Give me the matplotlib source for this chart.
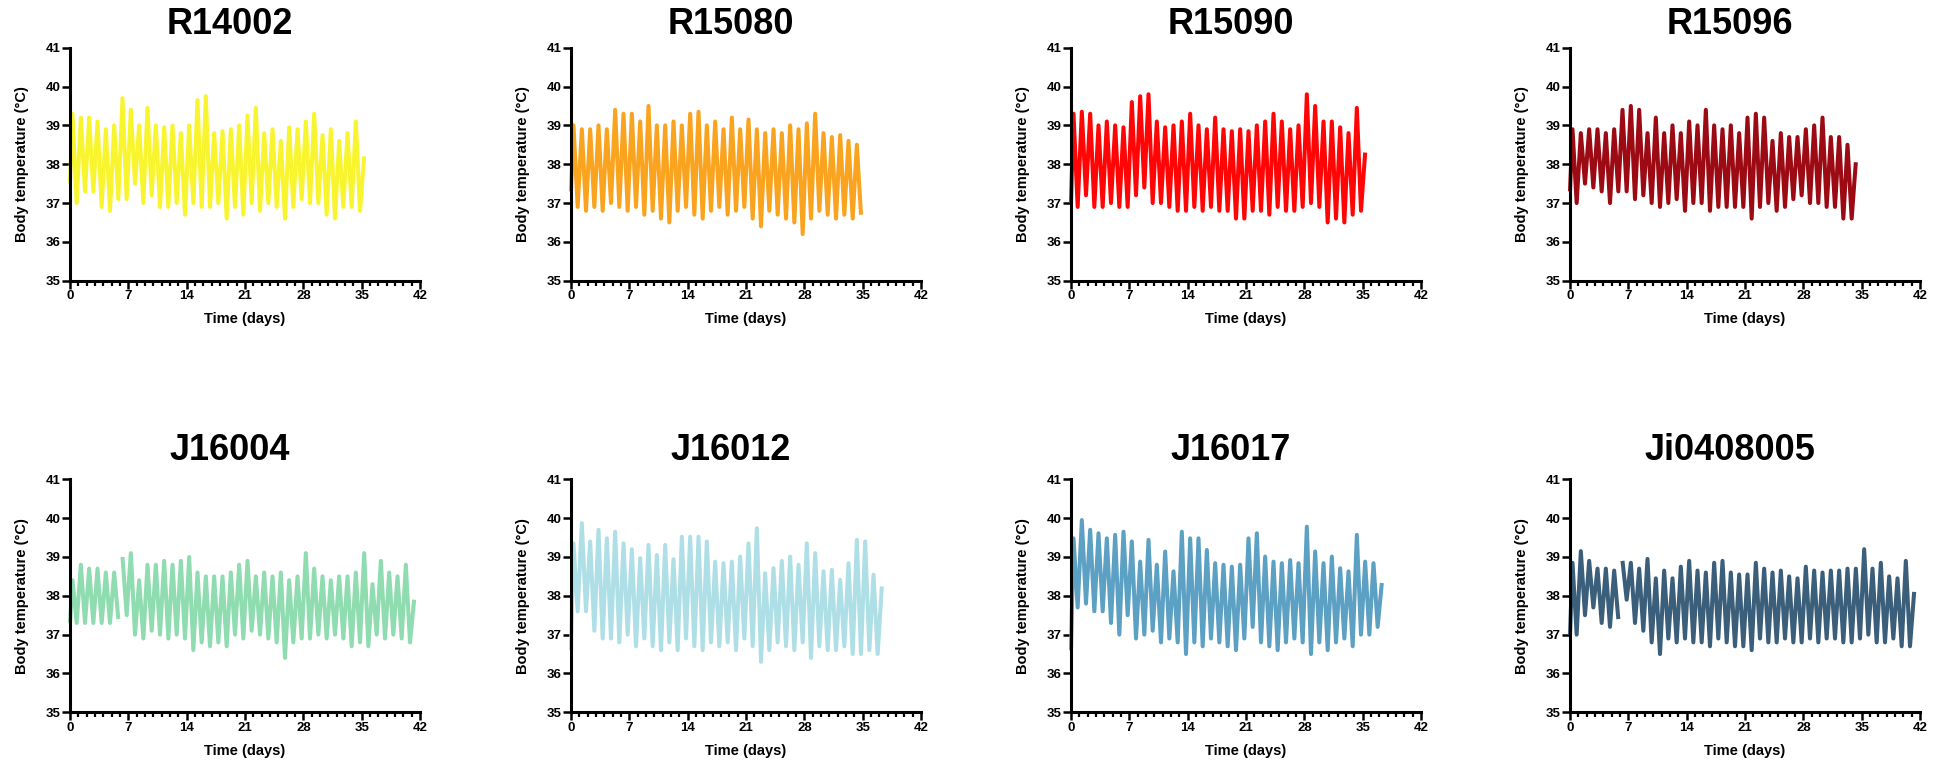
import numpy as np
import matplotlib
matplotlib.use("Agg")
import matplotlib.pyplot as plt
from matplotlib.ticker import MultipleLocator

plt.rcParams['font.family'] = ['Liberation Sans', 'DejaVu Sans']

# ---- data: daily peak / trough body temperatures (deg C) per animal ----
animals = ["R14002", "R15080", "R15090", "R15096",
           "J16004", "J16012", "J16017", "Ji0408005"]

colors = ["#F8F52E", "#F9A31E", "#FF0505", "#9C0A14",
          "#8FDCB0", "#AEDFE6", "#5CA0C4", "#3B5F7A"]

start_temp = [37.5, 37.3, 37.0, 37.3, 37.3, 36.6, 36.6, 37.0]

peaks_R14002 = [39.3, 39.2, 39.2, 39.1, 38.9, 39.0, 39.7, 39.4, 39.0, 39.45,
                39.0, 38.95, 39.0, 38.8, 39.0, 39.65, 39.75, 38.8, 38.85, 38.9,
                39.0, 39.25, 39.45, 38.8, 38.9, 38.6, 38.95, 38.9, 39.1, 39.3,
                38.75, 38.9, 38.6, 38.8, 39.1, 38.2]
troughs_R14002 = [37.0, 37.3, 37.3, 36.9, 36.8, 37.1, 37.1, 37.5, 37.0, 37.2,
                  36.9, 36.9, 37.0, 36.7, 37.0, 36.9, 36.9, 37.0, 36.6, 36.9,
                  36.7, 37.0, 36.8, 37.0, 36.9, 36.6, 36.9, 37.1, 37.0, 37.0,
                  36.7, 36.6, 36.9, 36.9, 36.8]

peaks_R15080 = [39.0, 38.9, 38.9, 39.0, 38.9, 39.4, 39.3, 39.3, 39.1, 39.5,
                39.0, 39.0, 39.1, 39.0, 39.3, 39.35, 39.0, 39.1, 38.9, 39.2,
                38.9, 39.15, 38.9, 38.8, 38.9, 38.8, 39.0, 38.9, 39.05, 39.3,
                38.8, 38.7, 38.75, 38.6, 38.5]
troughs_R15080 = [36.9, 36.8, 36.9, 36.8, 37.0, 36.9, 36.8, 36.9, 36.7, 36.8,
                  36.6, 36.5, 36.8, 36.9, 36.7, 36.6, 36.8, 36.9, 36.7, 36.8,
                  36.9, 36.6, 36.4, 36.8, 36.7, 36.6, 36.5, 36.2, 36.6, 36.8,
                  36.7, 36.6, 36.7, 36.6, 36.7]

peaks_R15090 = [39.3, 39.35, 39.3, 39.0, 39.1, 39.0, 38.95, 39.6, 39.75, 39.8,
                39.1, 38.95, 39.0, 39.1, 39.3, 39.0, 38.9, 39.2, 38.9, 38.85,
                38.9, 38.85, 39.0, 39.1, 39.3, 39.1, 38.9, 39.0, 39.8, 39.5,
                39.1, 39.1, 38.95, 38.8, 39.45, 38.3]
troughs_R15090 = [36.9, 37.2, 36.9, 36.9, 37.0, 36.9, 36.9, 37.2, 37.4, 37.0,
                  37.0, 36.9, 36.8, 36.8, 36.9, 36.8, 36.9, 36.8, 36.8, 36.6,
                  36.6, 36.8, 36.8, 36.7, 36.9, 36.8, 36.8, 36.9, 37.0, 36.9,
                  36.5, 36.6, 36.5, 36.7, 36.8]

peaks_R15096 = [38.9, 38.8, 38.9, 38.9, 38.8, 38.9, 39.4, 39.5, 39.4, 38.8,
                39.2, 38.8, 39.0, 38.8, 39.1, 39.0, 39.4, 39.0, 38.9, 39.0,
                38.8, 39.2, 39.3, 39.2, 38.6, 38.8, 38.7, 38.7, 38.9, 39.0,
                39.2, 38.7, 38.7, 38.5, 38.05]
troughs_R15096 = [37.0, 37.5, 37.4, 37.3, 37.0, 37.3, 37.3, 37.1, 37.2, 37.0,
                  36.9, 37.0, 37.1, 36.8, 37.0, 37.0, 36.8, 36.9, 36.9, 36.9,
                  36.9, 36.6, 36.9, 37.0, 36.8, 36.9, 37.1, 37.2, 37.0, 37.0,
                  36.9, 36.9, 36.6, 36.6]

peaks_J16004 = [38.4, 38.8, 38.7, 38.7, 38.6, 38.6, 39.0, 39.1, 38.4, 38.8,
                38.8, 38.9, 38.8, 38.9, 39.0, 38.6, 38.5, 38.5, 38.5, 38.6,
                38.8, 38.9, 38.5, 38.6, 38.5, 38.6, 38.4, 38.5, 39.1, 38.7,
                38.5, 38.4, 38.5, 38.5, 38.6, 39.1, 38.3, 38.9, 38.6, 38.5,
                38.8, 37.9]
troughs_J16004 = [37.3, 37.3, 37.3, 37.3, 37.3, 37.4, 37.5, 37.0, 36.9, 37.1,
                  37.0, 36.9, 37.0, 36.9, 36.6, 36.8, 36.7, 36.8, 36.7, 37.0,
                  36.9, 37.1, 37.0, 36.9, 36.8, 36.4, 36.8, 36.9, 36.9, 37.0,
                  36.9, 37.0, 36.9, 36.7, 36.8, 36.7, 37.0, 36.9, 37.0, 36.9,
                  36.8]

peaks_J16012 = [39.35, 39.87, 39.40, 39.70, 39.48, 39.65, 39.35, 39.20, 38.97, 39.31,
                39.05, 39.31, 38.94, 39.52, 39.52, 39.52, 39.40, 38.88, 38.84, 38.88,
                39.01, 39.35, 39.74, 38.58, 38.71, 38.90, 39.01, 38.80, 39.35, 39.10,
                38.63, 38.67, 38.41, 38.84, 39.44, 39.40, 38.54, 38.24]
troughs_J16012 = [37.6, 37.6, 37.1, 36.9, 36.9, 36.8, 37.0, 36.7, 36.9, 36.7,
                  36.6, 36.8, 36.6, 36.9, 36.7, 36.6, 36.8, 36.7, 36.8, 36.6,
                  36.9, 36.7, 36.3, 36.6, 36.8, 36.7, 36.6, 36.8, 36.4, 36.7,
                  36.6, 36.6, 36.7, 36.5, 36.5, 36.6, 36.5]

peaks_J16017 = [39.48, 39.95, 39.70, 39.61, 39.48, 39.57, 39.65, 39.40, 38.88, 39.44,
                38.80, 39.14, 38.63, 39.65, 39.48, 39.48, 39.18, 38.84, 38.80, 38.75,
                38.80, 39.48, 39.61, 39.01, 38.88, 38.84, 38.92, 38.84, 39.78, 39.14,
                38.84, 39.01, 38.71, 38.63, 39.57, 38.88, 38.84, 38.33]
troughs_J16017 = [37.7, 37.8, 37.6, 37.6, 37.3, 37.0, 37.5, 36.9, 37.0, 37.1,
                  36.8, 36.9, 36.8, 36.5, 36.8, 36.7, 36.9, 36.8, 36.7, 36.6,
                  36.9, 37.2, 36.8, 36.7, 36.6, 36.8, 36.9, 36.8, 36.5, 36.8,
                  36.6, 36.8, 36.9, 36.7, 37.0, 37.0, 37.2]

peaks_Ji0408005 = [38.85, 39.15, 38.9, 38.7, 38.7, 38.65, 38.9, 38.85, 38.7, 38.95,
                   38.45, 38.65, 38.45, 38.75, 38.9, 38.65, 38.6, 38.85, 38.9, 38.6,
                   38.55, 38.55, 38.85, 38.7, 38.6, 38.65, 38.5, 38.45, 38.75, 38.65,
                   38.6, 38.65, 38.65, 38.7, 38.7, 39.2, 38.7, 38.85, 38.5, 38.45,
                   38.9, 38.1]
troughs_Ji0408005 = [37.0, 37.5, 37.7, 37.3, 37.2, 37.4, 37.9, 37.3, 37.1, 36.8,
                     36.5, 36.9, 36.8, 36.9, 36.8, 36.8, 36.7, 36.9, 36.8, 36.7,
                     36.7, 36.6, 36.9, 36.8, 36.8, 36.9, 36.8, 36.8, 36.9, 36.8,
                     36.9, 36.9, 36.8, 36.8, 36.9, 37.0, 36.8, 36.8, 36.9, 36.7,
                     36.7]

peaks = [peaks_R14002, peaks_R15080, peaks_R15090, peaks_R15096,
         peaks_J16004, peaks_J16012, peaks_J16017, peaks_Ji0408005]
troughs = [troughs_R14002, troughs_R15080, troughs_R15090, troughs_R15096,
           troughs_J16004, troughs_J16012, troughs_J16017, troughs_Ji0408005]

# days after which the logger lost signal for part of the night
dropout_after_day = [[], [], [], [], [5], [], [], [5]]

x_ticks = [0, 7, 14, 21, 28, 35, 42]
y_ticks = [35, 36, 37, 38, 39, 40, 41]


def daily_trace(start, pk, tr, dropouts):
    """Alternate daily maxima (early in the day) and minima (later)."""
    t, v = [0.0], [start]
    for i, p in enumerate(pk):
        t.append(i + 0.3)
        v.append(p)
        if i < len(tr):
            t.append(i + 0.8)
            v.append(tr[i])
            if i in dropouts:
                t.append(i + 0.9)
                v.append(np.nan)
    return np.array(t), np.array(v)


# ---- layout (pixels on a 1950 x 763 canvas) ----
W, H = 1950, 763
fig = plt.figure(figsize=(W / 100, H / 100), dpi=100)
col_left = [70, 571, 1071, 1570]
row_top = [47.7, 479.3]
title_base = [34.5, 460]
ax_w, ax_h = 350, 233

for k, name in enumerate(animals):
    r, c = divmod(k, 4)
    left, top = col_left[c], row_top[r]
    ax = fig.add_axes([left / W, 1 - (top + ax_h) / H, ax_w / W, ax_h / H])

    t, v = daily_trace(start_temp[k], peaks[k], troughs[k], dropout_after_day[k])
    ax.plot(t, v, color=colors[k], lw=2.9, solid_joinstyle='round',
            solid_capstyle='butt', clip_on=False)

    ax.set_xlim(0, 42)
    ax.set_ylim(35, 41)
    ax.set_xticks(x_ticks)
    ax.set_yticks(y_ticks)
    ax.xaxis.set_minor_locator(MultipleLocator(1))

    for side in ("top", "right"):
        ax.spines[side].set_visible(False)
    for side in ("left", "bottom"):
        ax.spines[side].set_linewidth(2.2)
        ax.spines[side].set_capstyle('projecting')

    ax.tick_params(which='major', direction='out', length=5.5, width=1.8,
                   labelsize=9.5, pad=1.5)
    ax.tick_params(which='minor', axis='x', direction='out', length=3.5, width=1.6)
    for lab in ax.get_xticklabels() + ax.get_yticklabels():
        lab.set_fontweight('bold')

    ax.set_xlabel("Time (days)", fontsize=10.5, fontweight='bold', labelpad=7)
    ax.set_ylabel("Body temperature (°C)", fontsize=10.5, fontweight='bold',
                  labelpad=12)

    fig.text((left + ax_w / 2 - 15) / W, 1 - title_base[r] / H, name,
             fontsize=26, fontweight='bold', ha='center', va='baseline')

fig.savefig("out.png", dpi=100)
